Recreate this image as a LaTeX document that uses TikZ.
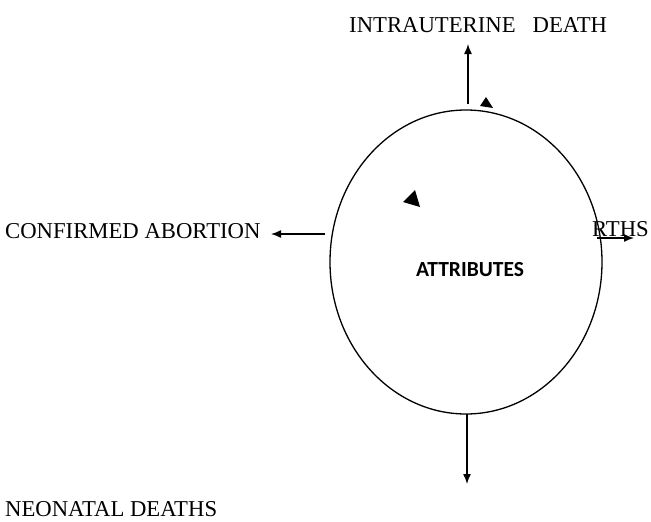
\documentclass[tikz,border=0pt]{standalone}
\usepackage{fontspec}
\setmainfont{Liberation Serif}
\newfontfamily\calib{Carlito}
\usetikzlibrary{arrows.meta,shapes.geometric}
\begin{document}
\begin{tikzpicture}[x=1pt,y=-1pt,
  lbl/.style={font=\fontsize{22.7}{26}\selectfont, text=black, inner sep=0pt},
  arr/.style={-{Latex[length=10pt,width=8pt]}, line width=1.4pt},
  tri/.style={fill=black}]
\useasboundingbox (0,0) rectangle (651,522);
\node[draw, ellipse, line width=1.3pt, minimum width=272pt, minimum height=304pt, inner sep=0pt] (e) at (466,262) {};
\node[font=\calib\bfseries\fontsize{21.5}{24}\selectfont, inner sep=0pt] (attr) at (470,270) {ATTRIBUTES};
% labels
\node[lbl, anchor=base west] (iud) at (349,32) {INTRAUTERINE\hspace{0.75em}DEATH};
\node[lbl, anchor=base west] (ca) at (5,238) {CONFIRMED ABORTION};
\node[lbl, anchor=base west] (lb) at (592,236) {RTHS};
\node[lbl, anchor=base west] (nd) at (5,516) {NEONATAL DEATHS};
% connector ends
\coordinate (t0) at (468,104); \coordinate (t1) at (468,44);
\coordinate (l0) at (325,234); \coordinate (l1) at (271,234);
\coordinate (r0) at (597,238); \coordinate (r1) at (634,238);
\coordinate (b0) at (467,414); \coordinate (b1) at (467,484);
\draw[arr] (t0) -- (t1);
\draw[arr] (l0) -- (l1);
\draw[arr] (r0) -- (r1);
\draw[arr] (b0) -- (b1);
% stray arrowheads
\fill[tri] (480,106) -- (493,108) -- (486,97) -- cycle;
\fill[tri] (403,202) -- (420,207) -- (415,190) -- cycle;
\end{tikzpicture}
\end{document}
